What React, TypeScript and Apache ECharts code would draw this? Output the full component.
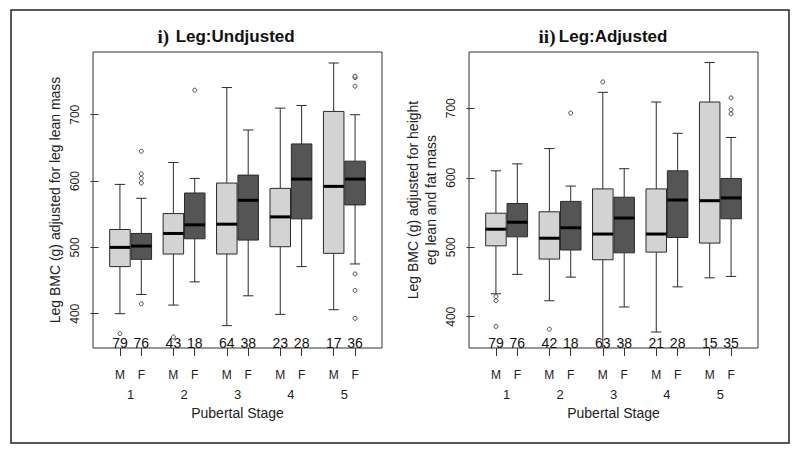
import React, { useEffect, useRef } from 'react';
import * as echarts from 'echarts';

// ---- data ----
const stages = ['1', '2', '3', '4', '5'];
const sexes = ['M', 'F'];

// [lower whisker, Q1, median, Q3, upper whisker], order: M1, F1, M2, F2, ...
const undjustedStats = [
  [400, 471, 500, 527, 595],
  [429, 482, 502, 521, 574],
  [413, 490, 521, 551, 628],
  [448, 513, 534, 582, 604],
  [382, 490, 535, 597, 741],
  [427, 511, 571, 609, 677],
  [399, 501, 546, 589, 710],
  [471, 543, 603, 656, 714],
  [406, 491, 592, 705, 778],
  [475, 564, 603, 630, 700],
];
const undjustedOutliers = [
  [370],
  [645, 611, 604, 597, 415],
  [365],
  [737],
  [],
  [],
  [],
  [],
  [],
  [756, 758, 743, 460, 435, 393],
];
const undjustedCounts = [79, 76, 43, 18, 64, 38, 23, 28, 17, 36];

const adjustedStats = [
  [433, 502, 526, 549, 610],
  [461, 515, 536, 563, 620],
  [423, 483, 513, 551, 642],
  [457, 496, 528, 566, 588],
  [350, 482, 519, 584, 723],
  [414, 492, 542, 572, 613],
  [378, 493, 519, 584, 709],
  [443, 514, 568, 610, 664],
  [456, 506, 567, 709, 766],
  [458, 541, 571, 599, 658],
];
const adjustedOutliers = [
  [429, 423, 386],
  [],
  [382],
  [693],
  [738],
  [],
  [],
  [],
  [],
  [715, 698, 692],
];
const adjustedCounts = [79, 76, 42, 18, 63, 38, 21, 28, 15, 35];

const yTicks = [400, 500, 600, 700];

// ---- layout helpers ----
const boxPos = (i: number) => 1 + Math.floor(i / 2) * 2.5 + (i % 2);
const tickPositions = undjustedStats.map((_, i) => boxPos(i));
const stageCenters = stages.map((_, s) => 1.5 + s * 2.5);
const X_MIN = -0.26;
const X_MAX = 13.26;
const FONT = 'Liberation Sans';
const LIGHT = '#d3d3d3';
const DARK = '#555555';
const LINE = '#2a2a2a';

function sexLabel(v: number) {
  const i = tickPositions.findIndex((p) => Math.abs(p - v) < 1e-6);
  return i >= 0 ? sexes[i % 2] : '';
}
function stageLabel(v: number) {
  const i = stageCenters.findIndex((p) => Math.abs(p - v) < 1e-6);
  return i >= 0 ? stages[i] : '';
}

function boxSeries(stats: number[][], xi: number, yi: number) {
  return {
    type: 'custom',
    xAxisIndex: xi,
    yAxisIndex: yi,
    z: 2,
    data: stats.map((s, i) => [boxPos(i), ...s, i % 2]),
    renderItem: (params: any, api: any) => {
      const cs = params.coordSys;
      const clampY = (y: number) => Math.min(Math.max(y, cs.y), cs.y + cs.height);
      const x = api.value(0);
      const cx = api.coord([x, api.value(3)])[0];
      const yLow = clampY(api.coord([x, api.value(1)])[1]);
      const yQ1 = api.coord([x, api.value(2)])[1];
      const yMed = api.coord([x, api.value(3)])[1];
      const yQ3 = api.coord([x, api.value(4)])[1];
      const yHigh = clampY(api.coord([x, api.value(5)])[1]);
      const w = api.size([0.96, 0])[0];
      const fill = api.value(6) === 0 ? LIGHT : DARK;
      const ls = { stroke: LINE, lineWidth: 1 };
      const children: any[] = [
        { type: 'line', shape: { x1: cx, y1: yHigh, x2: cx, y2: yQ3 }, style: ls },
        { type: 'line', shape: { x1: cx, y1: yQ1, x2: cx, y2: yLow }, style: ls },
        { type: 'line', shape: { x1: cx - w / 4, y1: yHigh, x2: cx + w / 4, y2: yHigh }, style: ls },
        {
          type: 'rect',
          shape: { x: cx - w / 2, y: yQ3, width: w, height: yQ1 - yQ3 },
          style: { fill, stroke: LINE, lineWidth: 1 },
        },
        {
          type: 'line',
          shape: { x1: cx - w / 2, y1: yMed, x2: cx + w / 2, y2: yMed },
          style: { stroke: '#000', lineWidth: 3 },
        },
      ];
      if (yLow < cs.y + cs.height - 0.5) {
        children.push({ type: 'line', shape: { x1: cx - w / 4, y1: yLow, x2: cx + w / 4, y2: yLow }, style: ls });
      }
      return { type: 'group', children };
    },
  };
}

function outlierSeries(outliers: number[][], xi: number, yi: number) {
  const data: number[][] = [];
  outliers.forEach((arr, i) => arr.forEach((v) => data.push([boxPos(i), v])));
  return {
    type: 'scatter',
    xAxisIndex: xi,
    yAxisIndex: yi,
    z: 3,
    symbol: 'circle',
    symbolSize: 4,
    itemStyle: { color: '#fff', borderColor: '#222', borderWidth: 1 },
    data,
  };
}

function countSeries(counts: number[], xi: number, yi: number) {
  return {
    type: 'custom',
    xAxisIndex: xi,
    yAxisIndex: yi,
    z: 4,
    data: counts.map((c, i) => [boxPos(i), c]),
    renderItem: (params: any, api: any) => {
      const cs = params.coordSys;
      const p = api.coord([api.value(0), yTicks[0]]);
      return {
        type: 'text',
        x: p[0],
        y: cs.y + cs.height - 5,
        style: {
          text: String(api.value(1)),
          align: 'center',
          verticalAlign: 'middle',
          fontSize: 14,
          fontFamily: FONT,
          fill: '#111',
        },
      };
    },
  };
}

function mainX(gridIndex: number) {
  return {
    gridIndex,
    type: 'value',
    min: X_MIN,
    max: X_MAX,
    axisLine: { show: false },
    splitLine: { show: false },
    axisTick: { show: true, customValues: tickPositions, length: 8, lineStyle: { color: '#333' } },
    axisLabel: {
      customValues: tickPositions,
      formatter: (v: number) => sexLabel(v),
      margin: 21,
      fontSize: 12,
      color: '#222',
    },
  };
}
function stageX(gridIndex: number) {
  return {
    gridIndex,
    type: 'value',
    position: 'bottom',
    min: X_MIN,
    max: X_MAX,
    axisLine: { show: false },
    splitLine: { show: false },
    axisTick: { show: false },
    axisLabel: {
      customValues: stageCenters,
      formatter: (v: number) => stageLabel(v),
      margin: 40,
      fontSize: 13,
      color: '#222',
    },
    name: 'Pubertal Stage',
    nameLocation: 'middle',
    nameGap: 57,
    nameTextStyle: { fontSize: 14, color: '#222' },
  };
}
function yAx(gridIndex: number, min: number, max: number, name: string, gap: number) {
  return {
    gridIndex,
    type: 'value',
    min,
    max,
    axisLine: { show: false },
    splitLine: { show: false },
    axisTick: { show: true, customValues: yTicks, length: 8, lineStyle: { color: '#333' } },
    axisLabel: { customValues: yTicks, rotate: 90, margin: 12, fontSize: 12, color: '#222' },
    name,
    nameLocation: 'middle',
    nameGap: gap,
    nameTextStyle: { fontSize: 14, color: '#222', lineHeight: 18, align: 'center' },
  };
}

export default function App() {
  const ref = useRef<HTMLDivElement>(null);
  useEffect(() => {
    document.body.style.margin = '0';
    if (!ref.current) return;
    const chart = echarts.init(ref.current, null, { renderer: 'svg' });
    chart.setOption({
      animation: false,
      backgroundColor: '#fff',
      textStyle: { fontFamily: FONT },
      grid: [
        { left: 93, top: 52, width: 289, height: 296, show: true, borderColor: '#333', borderWidth: 1, backgroundColor: 'transparent' },
        { left: 469, top: 52, width: 289, height: 296, show: true, borderColor: '#333', borderWidth: 1, backgroundColor: 'transparent' },
      ],
      xAxis: [mainX(0), stageX(0), mainX(1), stageX(1)],
      yAxis: [
        yAx(0, 348.3, 794.6, 'Leg BMC (g) adjusted for leg lean mass', 29),
        yAx(1, 355, 781, 'Leg BMC (g) adjusted for height\neg lean and fat mass', 29),
      ],
      graphic: [
        {
          type: 'rect',
          shape: { x: 11, y: 10, width: 778, height: 433 },
          style: { fill: 'none', stroke: '#222', lineWidth: 1.5 },
        },
        {
          type: 'text',
          x: 226,
          y: 36,
          style: {
            text: '{a|i)}  {b|Leg:Undjusted}',
            align: 'center',
            verticalAlign: 'middle',
            rich: {
              a: { fontFamily: 'Liberation Serif', fontWeight: 'bold', fontSize: 19, fill: '#111' },
              b: { fontFamily: FONT, fontWeight: 'bold', fontSize: 17, fill: '#111' },
            },
          },
        },
        {
          type: 'text',
          x: 603,
          y: 36,
          style: {
            text: '{a|ii)} {b|Leg:Adjusted}',
            align: 'center',
            verticalAlign: 'middle',
            rich: {
              a: { fontFamily: 'Liberation Serif', fontWeight: 'bold', fontSize: 19, fill: '#111' },
              b: { fontFamily: FONT, fontWeight: 'bold', fontSize: 17, fill: '#111' },
            },
          },
        },
      ],
      series: [
        boxSeries(undjustedStats, 0, 0),
        outlierSeries(undjustedOutliers, 0, 0),
        countSeries(undjustedCounts, 0, 0),
        boxSeries(adjustedStats, 2, 1),
        outlierSeries(adjustedOutliers, 2, 1),
        countSeries(adjustedCounts, 2, 1),
      ],
    });
    return () => chart.dispose();
  }, []);
  return <div ref={ref} style={{ width: 800, height: 454 }} />;
}
